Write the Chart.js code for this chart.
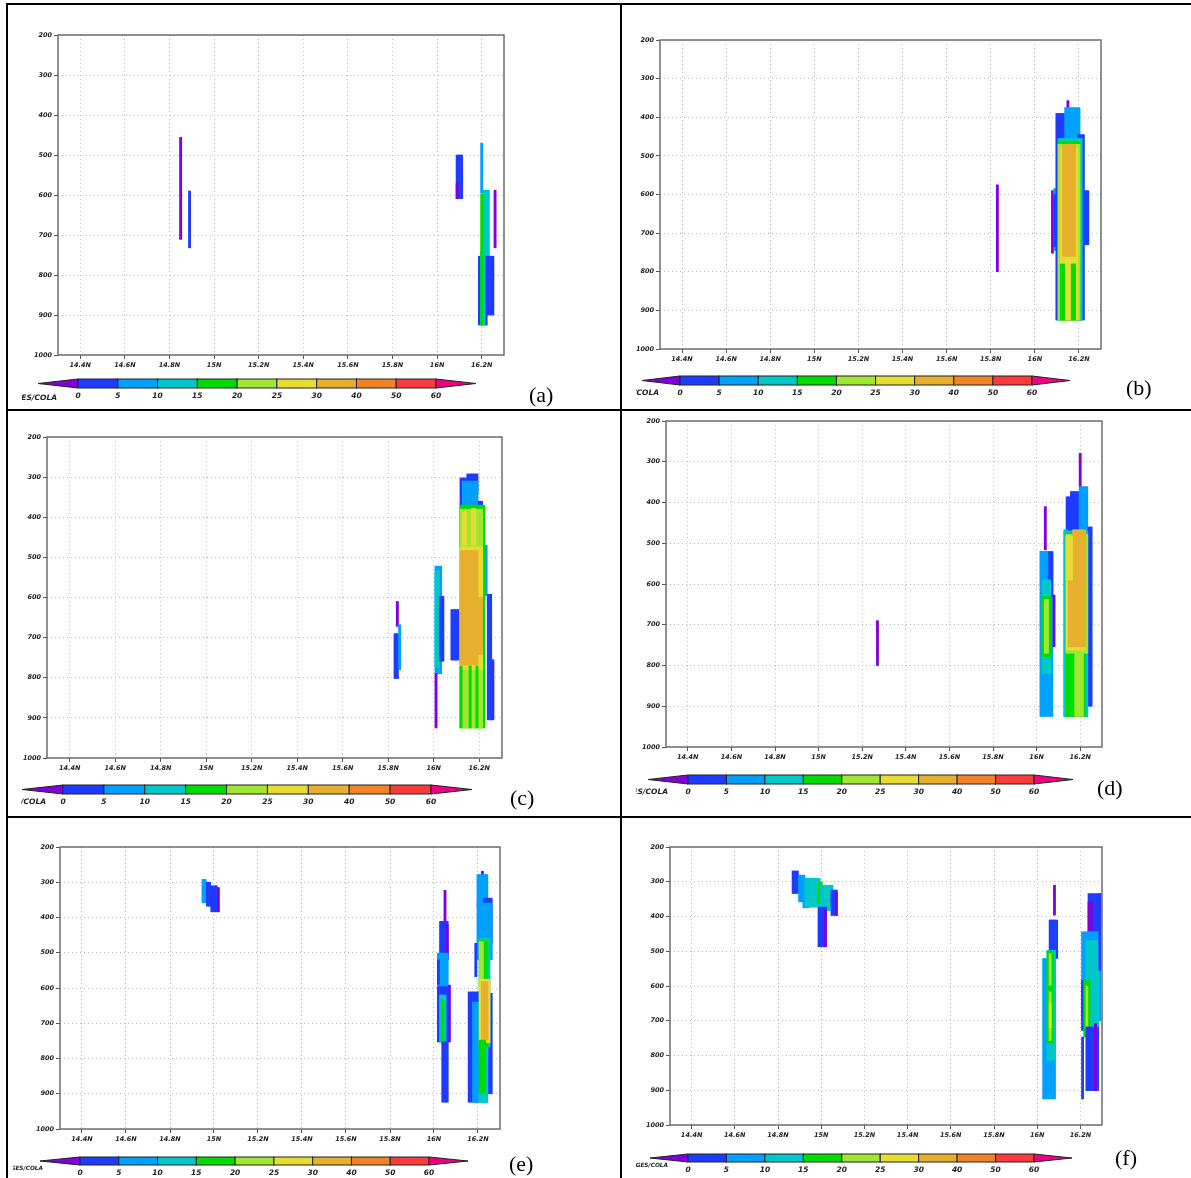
<!DOCTYPE html>
<html>
<head>
<meta charset="utf-8">
<script src="https://cdn.jsdelivr.net/npm/chart.js@4.4.1/dist/chart.umd.min.js"></script>
<style>
html, body { margin: 0; padding: 0; background: #fff; }
body { width: 1191px; height: 1178px; position: relative; overflow: hidden; }
.rule { position: absolute; background: #000; }
canvas { position: absolute; }
.tag { position: absolute; font-family: "Liberation Serif", "Times New Roman", serif; font-size: 22px; line-height: 22px; color: #000; }
</style>
</head>
<body>
<div class="rule" style="left:6px;top:3px;width:1185px;height:2px"></div>
<div class="rule" style="left:6px;top:3px;width:2px;height:1175px"></div>
<div class="rule" style="left:620px;top:3px;width:2px;height:1175px"></div>
<div class="rule" style="left:6px;top:409px;width:1185px;height:2px"></div>
<div class="rule" style="left:6px;top:816px;width:1185px;height:2px"></div>

<canvas id="pa" width="598" height="400" style="left:22px;top:8px"></canvas>
<canvas id="pb" width="555" height="400" style="left:636px;top:8px"></canvas>
<canvas id="pc" width="599" height="402" style="left:21px;top:413px"></canvas>
<canvas id="pd" width="555" height="402" style="left:636px;top:413px"></canvas>
<canvas id="pe" width="607" height="358" style="left:13px;top:820px"></canvas>
<canvas id="pf" width="555" height="358" style="left:636px;top:820px"></canvas>

<div class="tag" style="left:529px;top:384px">(a)</div>
<div class="tag" style="left:1126px;top:377px">(b)</div>
<div class="tag" style="left:510px;top:787px">(c)</div>
<div class="tag" style="left:1097px;top:777px">(d)</div>
<div class="tag" style="left:509px;top:1153px">(e)</div>
<div class="tag" style="left:1115px;top:1147px">(f)</div>

<script>
// shading levels and colours (GrADS rainbow)
const LEVELS = [0, 5, 10, 15, 20, 25, 30, 40, 50, 60];
const SHADES = ['#8200dc', '#1e3cff', '#00a0ff', '#00c8c8', '#00dc00', '#a0e632',
                '#e6dc32', '#e6af2d', '#f08228', '#fa3c3c', '#f00082'];
const LAT_TICKS = [14.4, 14.6, 14.8, 15, 15.2, 15.4, 15.6, 15.8, 16, 16.2];
const P_TICKS = [200, 300, 400, 500, 600, 700, 800, 900, 1000];

// shaded cells: [lat from, lat to, p top, p bottom, shade index]
const rectsA = [
  [14.85, 14.85, 456, 711, 0],
  [14.89, 14.89, 590, 732, 1],
  [16.09, 16.11, 500, 609, 1],
  [16.09, 16.09, 571, 609, 0],
  [16.20, 16.20, 470, 595, 2],
  [16.21, 16.23, 588, 753, 3],
  [16.19, 16.25, 753, 900, 1],
  [16.19, 16.22, 900, 925, 1],
  [16.20, 16.21, 740, 925, 3],
  [16.20, 16.20, 597, 925, 4],
  [16.26, 16.26, 588, 732, 0]
];

const rectsB = [
  [15.83, 15.83, 575, 800, 0],
  [16.08, 16.08, 590, 752, 0],
  [16.09, 16.10, 585, 745, 2],
  [16.09, 16.09, 600, 735, 1],
  [16.15, 16.15, 357, 400, 0],
  [16.10, 16.14, 390, 925, 1],
  [16.14, 16.20, 375, 925, 2],
  [16.20, 16.22, 445, 925, 1],
  [16.23, 16.24, 590, 730, 1],
  [16.11, 16.21, 455, 925, 3],
  [16.11, 16.20, 462, 925, 4],
  [16.11, 16.20, 470, 925, 5],
  [16.12, 16.19, 480, 925, 6],
  [16.12, 16.13, 780, 925, 4],
  [16.17, 16.18, 780, 925, 4],
  [16.13, 16.18, 470, 760, 7]
];

const rectsC = [
  [15.84, 15.84, 610, 672, 0],
  [15.83, 15.84, 690, 802, 1],
  [15.85, 15.85, 668, 780, 2],
  [16.01, 16.03, 522, 790, 2],
  [16.01, 16.02, 534, 775, 3],
  [16.03, 16.04, 597, 759, 1],
  [16.01, 16.01, 790, 925, 0],
  [16.08, 16.11, 630, 756, 1],
  [16.12, 16.18, 302, 480, 1],
  [16.15, 16.19, 292, 340, 1],
  [16.13, 16.19, 310, 480, 2],
  [16.20, 16.21, 360, 470, 1],
  [16.22, 16.23, 470, 595, 2],
  [16.24, 16.25, 592, 905, 1],
  [16.26, 16.26, 755, 905, 1],
  [16.12, 16.22, 370, 925, 4],
  [16.12, 16.21, 380, 925, 5],
  [16.13, 16.14, 385, 470, 6],
  [16.17, 16.18, 378, 470, 6],
  [16.12, 16.21, 474, 780, 6],
  [16.12, 16.19, 483, 768, 7],
  [16.20, 16.21, 600, 742, 7],
  [16.12, 16.12, 771, 925, 4],
  [16.16, 16.16, 771, 925, 4],
  [16.19, 16.19, 771, 925, 4]
];

const rectsD = [
  [15.27, 15.27, 690, 800, 0],
  [16.04, 16.04, 410, 516, 0],
  [16.02, 16.07, 520, 925, 2],
  [16.06, 16.07, 521, 631, 1],
  [16.03, 16.06, 590, 820, 3],
  [16.03, 16.06, 631, 778, 4],
  [16.04, 16.05, 638, 770, 5],
  [16.08, 16.08, 627, 754, 0],
  [16.20, 16.20, 279, 361, 0],
  [16.14, 16.18, 386, 480, 1],
  [16.16, 16.19, 373, 480, 1],
  [16.20, 16.23, 361, 925, 2],
  [16.24, 16.25, 460, 900, 1],
  [16.13, 16.14, 467, 925, 2],
  [16.13, 16.23, 470, 925, 3],
  [16.14, 16.22, 475, 925, 4],
  [16.18, 16.21, 750, 925, 5],
  [16.14, 16.23, 478, 770, 5],
  [16.14, 16.22, 482, 762, 6],
  [16.17, 16.22, 467, 754, 7],
  [16.15, 16.17, 590, 754, 7],
  [16.14, 16.16, 484, 590, 6]
];

const rectsE = [
  [14.95, 14.96, 292, 358, 2],
  [14.97, 14.98, 300, 368, 1],
  [14.99, 15.01, 310, 384, 1],
  [15.02, 15.02, 315, 384, 0],
  [16.05, 16.05, 323, 411, 0],
  [16.03, 16.06, 411, 520, 1],
  [16.06, 16.06, 420, 520, 0],
  [16.02, 16.06, 501, 596, 2],
  [16.02, 16.02, 520, 590, 1],
  [16.07, 16.07, 592, 753, 0],
  [16.02, 16.06, 596, 753, 1],
  [16.03, 16.05, 620, 753, 3],
  [16.04, 16.04, 634, 758, 4],
  [16.04, 16.06, 753, 924, 1],
  [16.22, 16.22, 269, 307, 0],
  [16.20, 16.24, 278, 368, 2],
  [16.23, 16.26, 345, 473, 1],
  [16.20, 16.26, 359, 520, 2],
  [16.19, 16.19, 473, 568, 1],
  [16.16, 16.20, 611, 924, 1],
  [16.18, 16.20, 640, 924, 2],
  [16.25, 16.26, 615, 900, 1],
  [16.21, 16.25, 459, 767, 3],
  [16.21, 16.24, 748, 925, 3],
  [16.21, 16.24, 465, 767, 4],
  [16.21, 16.22, 468, 596, 5],
  [16.21, 16.25, 575, 755, 6],
  [16.22, 16.24, 582, 748, 7],
  [16.21, 16.23, 748, 900, 4]
];

const rectsF = [
  [14.87, 14.89, 269, 334, 1],
  [14.90, 14.92, 281, 358, 2],
  [14.92, 14.94, 340, 375, 2],
  [14.93, 14.99, 290, 373, 3],
  [14.99, 15.00, 300, 363, 4],
  [15.00, 15.05, 310, 383, 3],
  [15.05, 15.07, 324, 397, 1],
  [15.07, 15.07, 330, 397, 0],
  [14.99, 15.02, 373, 487, 1],
  [15.02, 15.02, 380, 487, 0],
  [16.08, 16.08, 310, 396, 0],
  [16.06, 16.09, 410, 521, 1],
  [16.03, 16.08, 521, 925, 2],
  [16.05, 16.08, 497, 814, 3],
  [16.05, 16.07, 500, 765, 4],
  [16.06, 16.06, 507, 598, 5],
  [16.06, 16.06, 617, 757, 5],
  [16.06, 16.06, 650, 720, 6],
  [16.24, 16.29, 334, 444, 1],
  [16.24, 16.25, 358, 444, 0],
  [16.21, 16.29, 444, 700, 2],
  [16.23, 16.28, 470, 747, 3],
  [16.21, 16.22, 584, 728, 1],
  [16.22, 16.24, 584, 747, 4],
  [16.23, 16.23, 600, 730, 5],
  [16.23, 16.28, 718, 901, 1],
  [16.27, 16.27, 708, 901, 0],
  [16.21, 16.21, 747, 925, 1],
  [16.29, 16.29, 334, 555, 1]
];

// page layout of each panel: canvas box, plot frame, colour bar, stamp (page px)
const panels = [
  { id: 'pa', rects: rectsA, box: [22, 8], frame: [58, 35, 504, 355],
    bar: [38, 78, 436, 476, 379, 9], stamp: [57, 398, 7.5] },
  { id: 'pb', rects: rectsB, box: [636, 8], frame: [660, 40, 1101, 349],
    bar: [642, 680, 1032, 1070, 376, 9], stamp: [659, 393, 7.5] },
  { id: 'pc', rects: rectsC, box: [21, 413], frame: [47, 437, 502, 758],
    bar: [22, 63, 431, 472, 785, 9], stamp: [46, 802, 7.5] },
  { id: 'pd', rects: rectsD, box: [636, 413], frame: [666, 421, 1102, 747],
    bar: [648, 688, 1034, 1073, 775, 9], stamp: [668, 792, 7.5] },
  { id: 'pe', rects: rectsE, box: [13, 820], frame: [60, 847, 500, 1129],
    bar: [40, 80, 429, 468, 1157, 8], stamp: [43, 1168, 5.8] },
  { id: 'pf', rects: rectsF, box: [636, 820], frame: [670, 847, 1102, 1125],
    bar: [650, 688, 1034, 1072, 1154, 8], stamp: [668, 1165, 5.8] }
];

const YW = 26, XH = 16;
const tickFont = { family: 'DejaVu Sans', size: 6.5, style: 'italic', weight: 'bold' };

const gradsPlugin = {
  id: 'grads',
  afterDatasetsDraw(chart, args, opts) {
    const p = opts.panel;
    const ctx = chart.ctx;
    const a = chart.chartArea;
    const ox = p.box[0], oy = p.box[1];
    ctx.save();
    ctx.strokeStyle = '#6e6e6e';
    ctx.lineWidth = 1.5;
    ctx.strokeRect(a.left, a.top, a.right - a.left, a.bottom - a.top);

    // colour bar
    const [tl, c0, c1, tr, top, h] = p.bar;
    const y0 = top - oy, mid = y0 + h / 2;
    const n = LEVELS.length - 1;
    const w = (c1 - c0) / n;
    ctx.lineWidth = 1;
    ctx.strokeStyle = '#222';
    ctx.beginPath();
    ctx.moveTo(tl - ox, mid); ctx.lineTo(c0 - ox, y0); ctx.lineTo(c0 - ox, y0 + h); ctx.closePath();
    ctx.fillStyle = SHADES[0]; ctx.fill(); ctx.stroke();
    for (let i = 0; i < n; i++) {
      ctx.fillStyle = SHADES[i + 1];
      ctx.fillRect(c0 - ox + i * w, y0, w, h);
      ctx.strokeRect(c0 - ox + i * w, y0, w, h);
    }
    ctx.beginPath();
    ctx.moveTo(tr - ox, mid); ctx.lineTo(c1 - ox, y0); ctx.lineTo(c1 - ox, y0 + h); ctx.closePath();
    ctx.fillStyle = SHADES[SHADES.length - 1]; ctx.fill(); ctx.stroke();

    ctx.fillStyle = '#222';
    ctx.font = 'italic bold 7.5px "DejaVu Sans"';
    ctx.textAlign = 'center';
    ctx.textBaseline = 'middle';
    LEVELS.forEach((v, i) => ctx.fillText(String(v), c0 - ox + i * w, y0 + h + 8));
    ctx.font = 'italic bold ' + p.stamp[2] + 'px "DejaVu Sans"';
    ctx.textAlign = 'right';
    ctx.fillText('GrADS: IGES/COLA', p.stamp[0] - ox, p.stamp[1] - oy);
    ctx.restore();
  }
};

function toDatasets(rects) {
  return rects.map((r, i) => {
    const [a, b, top, bot, lev] = r;
    const data = [];
    for (let k = Math.round(a * 100); k <= Math.round(b * 100); k++) {
      data.push({ x: k / 100, y: [top, bot] });
    }
    return {
      data,
      backgroundColor: SHADES[lev],
      borderWidth: 0,
      grouped: false,
      barPercentage: 1,
      categoryPercentage: 1,
      order: rects.length - i
    };
  });
}

function latLabel(v) {
  return (+v.toFixed(1)) + 'N';
}

panels.forEach(p => {
  const cv = document.getElementById(p.id);
  const f = p.frame;
  const pad = {
    left: f[0] - p.box[0] - YW,
    top: f[1] - p.box[1],
    right: p.box[0] + cv.width - f[2],
    bottom: p.box[1] + cv.height - f[3] - XH
  };
  new Chart(cv, {
    type: 'bar',
    data: { datasets: toDatasets(p.rects) },
    options: {
      responsive: false,
      animation: false,
      events: [],
      layout: { padding: pad },
      plugins: { legend: { display: false }, tooltip: { enabled: false }, grads: { panel: p } },
      scales: {
        x: {
          type: 'linear', min: 14.3, max: 16.3, offset: false,
          afterBuildTicks: s => { s.ticks = LAT_TICKS.map(v => ({ value: v })); },
          afterFit: s => { s.height = XH; },
          grid: { offset: false, color: '#bdbdbd', tickColor: '#555', tickLength: 4 },
          border: { display: false, dash: [1, 3] },
          ticks: { autoSkip: false, maxRotation: 0, padding: 2, color: '#222', font: tickFont, callback: v => latLabel(v) }
        },
        y: {
          type: 'linear', reverse: true, min: 200, max: 1000, beginAtZero: false,
          afterBuildTicks: s => { s.ticks = P_TICKS.map(v => ({ value: v })); },
          afterFit: s => { s.width = YW; },
          grid: { color: '#bdbdbd', tickColor: '#555', tickLength: 4 },
          border: { display: false, dash: [1, 3] },
          ticks: { padding: 2, color: '#222', font: tickFont, callback: v => String(v) }
        }
      }
    },
    plugins: [gradsPlugin]
  });
});
</script>
</body>
</html>
